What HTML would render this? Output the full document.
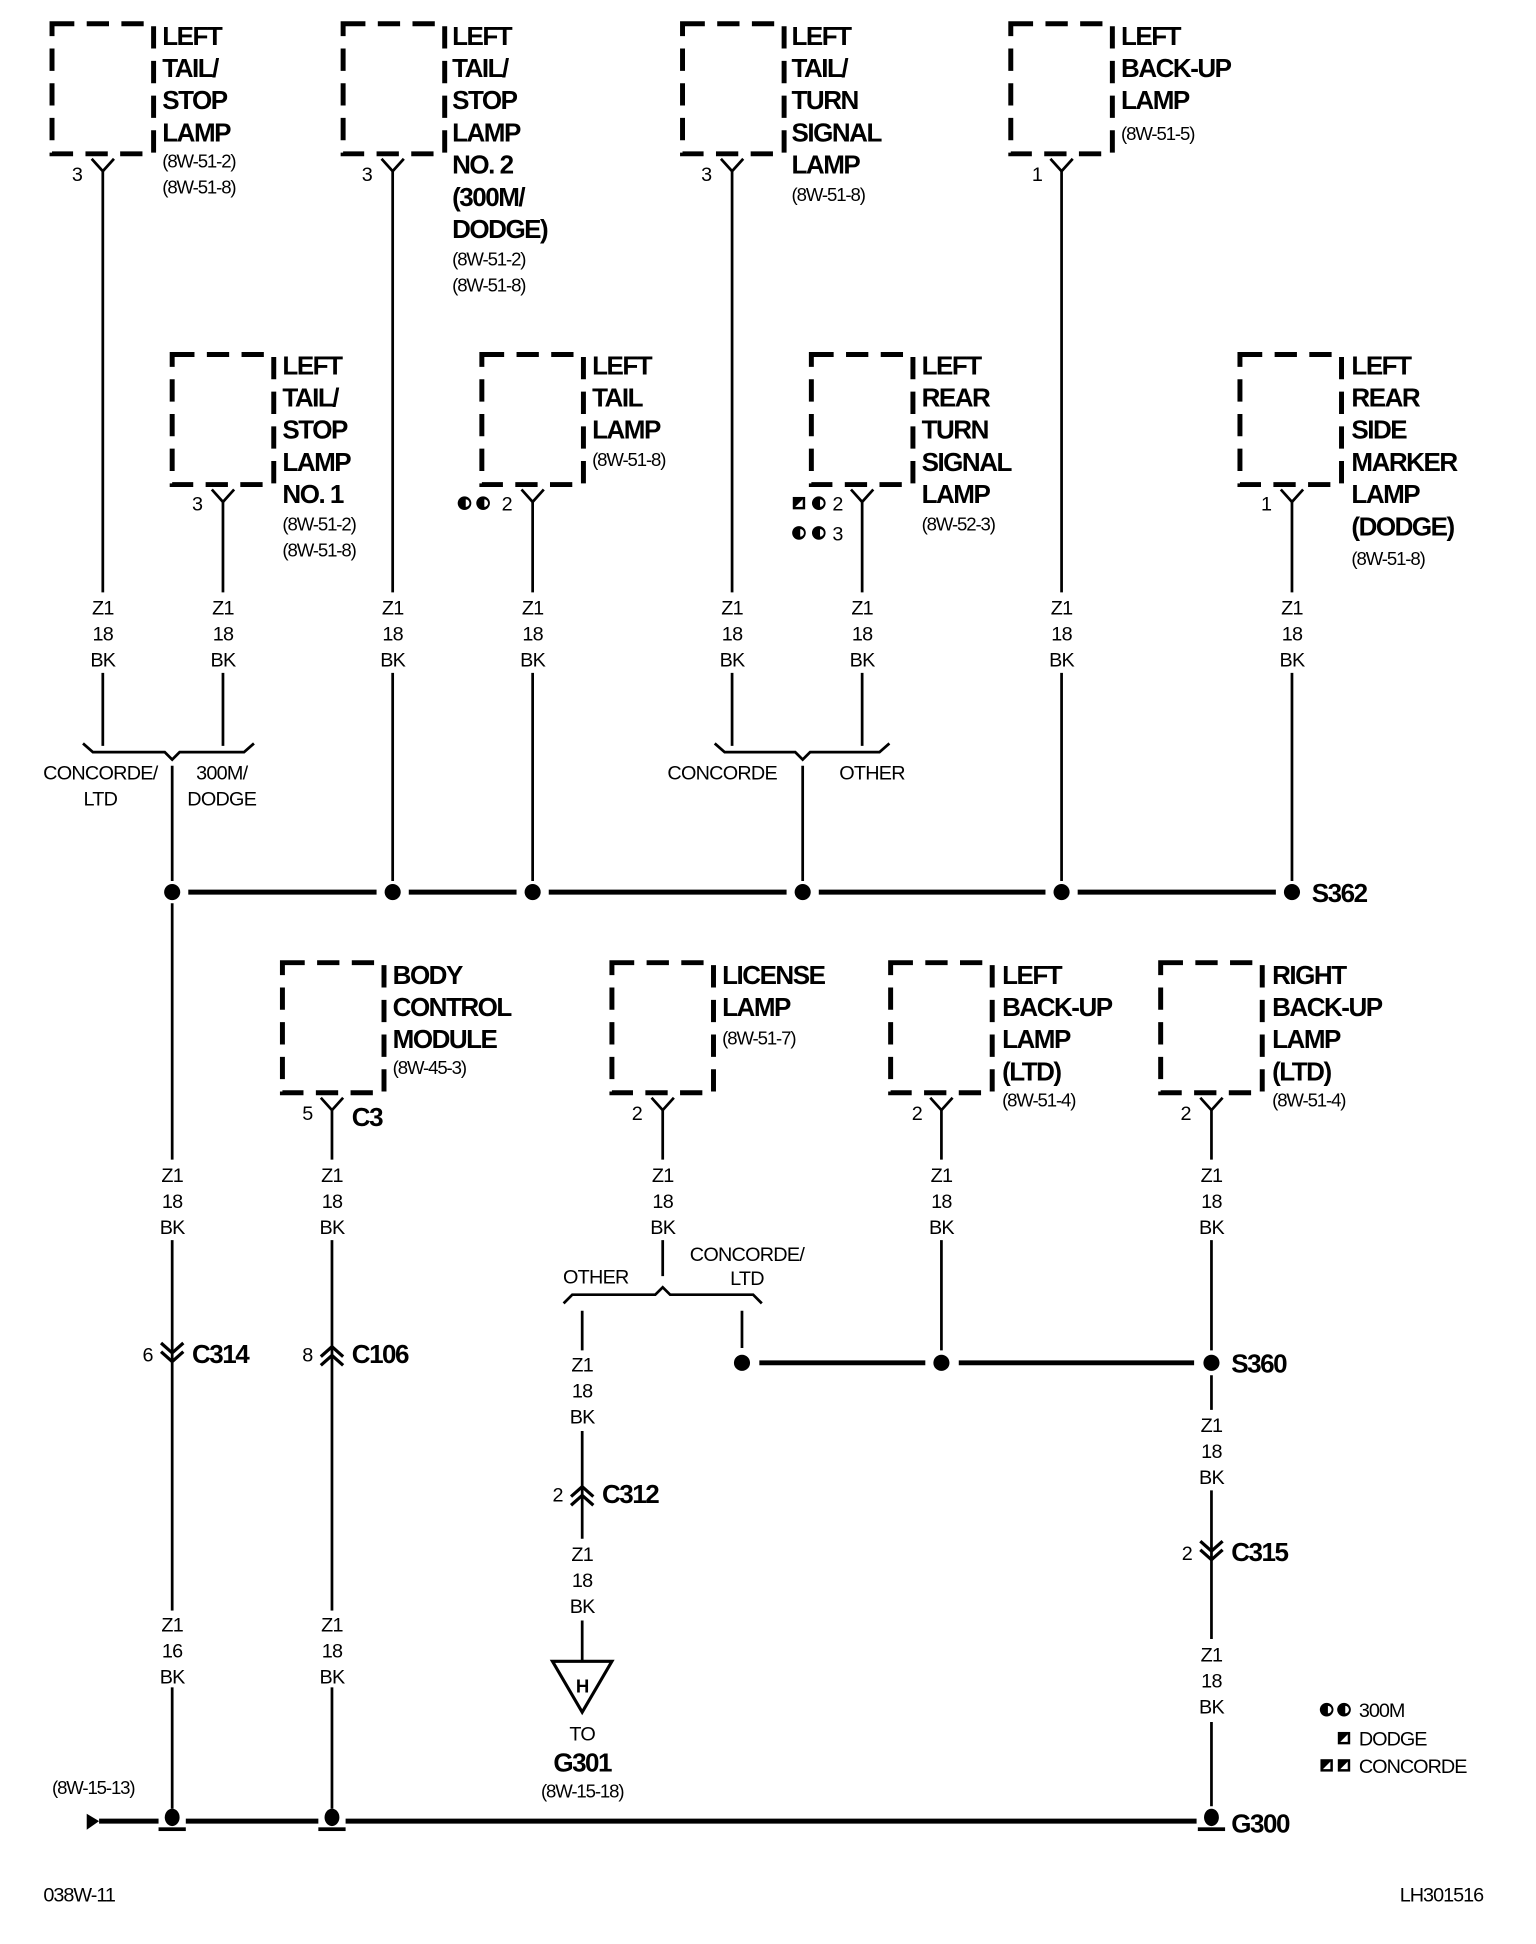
<!DOCTYPE html>
<html><head><meta charset="utf-8"><style>
html,body{margin:0;padding:0;background:#fff}
svg{display:block}
text{font-family:"Liberation Sans",Arial,sans-serif;fill:#000}
.b{font-size:21px;font-weight:bold;letter-spacing:-1.2px}
.r{font-size:15px;letter-spacing:-0.9px}
.w{font-size:16px;text-anchor:middle;letter-spacing:-0.6px}
.p{font-size:16px;text-anchor:end}
.s{font-size:16px;letter-spacing:-0.8px}
.box{fill:none;stroke:#000;stroke-width:4;stroke-dasharray:18 10}
.l{stroke:#000;stroke-width:2.2;fill:none}
.t{stroke:#000;stroke-width:4;fill:none}
</style></head><body>
<svg width="1536" height="1944" viewBox="0 0 1240 1569" xmlns="http://www.w3.org/2000/svg">
<defs>
<g id="ypin"><path class="l" d="M-9,4 L0,14 L9,4"/></g>
<g id="cd"><path d="M-9,-9 L0,-1 L9,-9 M-9,-2 L0,6 L9,-2" stroke="#000" stroke-width="2.6" fill="none"/></g>
<g id="cu"><path d="M-9,9 L0,1 L9,9 M-9,2 L0,-6 L9,2" stroke="#000" stroke-width="2.6" fill="none"/></g>
<g id="gnd"><ellipse cx="0" cy="-3" rx="6" ry="7" fill="#000"/><rect x="-11" y="5" width="22" height="3" fill="#000"/></g>
<g id="sym"><circle r="5.5" fill="#000"/><path d="M1,-3 A3,3 0 0 1 1,3 Z" fill="#fff"/></g>
<g id="sq"><rect x="-5" y="-5" width="10" height="10" fill="#000"/><path d="M-3,3 L3,-3 L3,3 Z" fill="#fff"/></g>
</defs>

<!-- top row boxes -->
<rect class="box" x="42" y="19" width="82" height="105"/>
<rect class="box" x="277" y="19" width="82" height="105"/>
<rect class="box" x="551" y="19" width="82" height="105"/>
<rect class="box" x="816" y="19" width="82" height="105"/>
<use href="#ypin" x="83" y="124"/><use href="#ypin" x="317" y="124"/><use href="#ypin" x="591" y="124"/><use href="#ypin" x="857" y="124"/>
<text class="s" x="58" y="146">3</text><text class="s" x="292" y="146">3</text><text class="s" x="566" y="146">3</text><text class="s" x="833" y="146">1</text>

<text class="b" x="131" y="36">LEFT</text><text class="b" x="131" y="62">TAIL/</text><text class="b" x="131" y="88">STOP</text><text class="b" x="131" y="114">LAMP</text>
<text class="r" x="131" y="135">(8W-51-2)</text><text class="r" x="131" y="156">(8W-51-8)</text>

<text class="b" x="365" y="36">LEFT</text><text class="b" x="365" y="62">TAIL/</text><text class="b" x="365" y="88">STOP</text><text class="b" x="365" y="114">LAMP</text><text class="b" x="365" y="140">NO. 2</text><text class="b" x="365" y="166">(300M/</text><text class="b" x="365" y="192">DODGE)</text>
<text class="r" x="365" y="214">(8W-51-2)</text><text class="r" x="365" y="235">(8W-51-8)</text>

<text class="b" x="639" y="36">LEFT</text><text class="b" x="639" y="62">TAIL/</text><text class="b" x="639" y="88">TURN</text><text class="b" x="639" y="114">SIGNAL</text><text class="b" x="639" y="140">LAMP</text>
<text class="r" x="639" y="162">(8W-51-8)</text>

<text class="b" x="905" y="36">LEFT</text><text class="b" x="905" y="62">BACK-UP</text><text class="b" x="905" y="88">LAMP</text>
<text class="r" x="905" y="113">(8W-51-5)</text>

<!-- second row boxes -->
<rect class="box" x="139" y="286" width="82" height="105"/>
<rect class="box" x="389" y="286" width="82" height="105"/>
<rect class="box" x="655" y="286" width="82" height="105"/>
<rect class="box" x="1001" y="286" width="82" height="105"/>
<use href="#ypin" x="180" y="391"/><use href="#ypin" x="430" y="391"/><use href="#ypin" x="696" y="391"/><use href="#ypin" x="1043" y="391"/>
<text class="s" x="155" y="412">3</text><text class="s" x="405" y="412">2</text><text class="s" x="672" y="412">2</text><text class="s" x="672" y="436">3</text><text class="s" x="1018" y="412">1</text>
<use href="#sym" x="375" y="406"/><use href="#sym" x="390" y="406"/>
<use href="#sq" x="645" y="406"/><use href="#sym" x="661" y="406"/>
<use href="#sym" x="645" y="430"/><use href="#sym" x="661" y="430"/>

<text class="b" x="228" y="302">LEFT</text><text class="b" x="228" y="328">TAIL/</text><text class="b" x="228" y="354">STOP</text><text class="b" x="228" y="380">LAMP</text><text class="b" x="228" y="406">NO. 1</text>
<text class="r" x="228" y="428">(8W-51-2)</text><text class="r" x="228" y="449">(8W-51-8)</text>

<text class="b" x="478" y="302">LEFT</text><text class="b" x="478" y="328">TAIL</text><text class="b" x="478" y="354">LAMP</text>
<text class="r" x="478" y="376">(8W-51-8)</text>

<text class="b" x="744" y="302">LEFT</text><text class="b" x="744" y="328">REAR</text><text class="b" x="744" y="354">TURN</text><text class="b" x="744" y="380">SIGNAL</text><text class="b" x="744" y="406">LAMP</text>
<text class="r" x="744" y="428">(8W-52-3)</text>

<text class="b" x="1091" y="302">LEFT</text><text class="b" x="1091" y="328">REAR</text><text class="b" x="1091" y="354">SIDE</text><text class="b" x="1091" y="380">MARKER</text><text class="b" x="1091" y="406">LAMP</text><text class="b" x="1091" y="432">(DODGE)</text>
<text class="r" x="1091" y="456">(8W-51-8)</text>

<!-- top wires -->
<path class="l" d="M83,138 V478 M83,543 V602 M180,405 V478 M180,543 V602 M317,138 V478 M317,543 V711 M430,405 V478 M430,543 V711 M591,138 V478 M591,543 V602 M696,405 V478 M696,543 V602 M857,138 V478 M857,543 V711 M1043,405 V478 M1043,543 V711"/>
<g>
<text class="w" x="83" y="496">Z1</text><text class="w" x="83" y="517">18</text><text class="w" x="83" y="538">BK</text>
<text class="w" x="180" y="496">Z1</text><text class="w" x="180" y="517">18</text><text class="w" x="180" y="538">BK</text>
<text class="w" x="317" y="496">Z1</text><text class="w" x="317" y="517">18</text><text class="w" x="317" y="538">BK</text>
<text class="w" x="430" y="496">Z1</text><text class="w" x="430" y="517">18</text><text class="w" x="430" y="538">BK</text>
<text class="w" x="591" y="496">Z1</text><text class="w" x="591" y="517">18</text><text class="w" x="591" y="538">BK</text>
<text class="w" x="696" y="496">Z1</text><text class="w" x="696" y="517">18</text><text class="w" x="696" y="538">BK</text>
<text class="w" x="857" y="496">Z1</text><text class="w" x="857" y="517">18</text><text class="w" x="857" y="538">BK</text>
<text class="w" x="1043" y="496">Z1</text><text class="w" x="1043" y="517">18</text><text class="w" x="1043" y="538">BK</text>
</g>
<!-- brackets -->
<path class="l" d="M67,600 L75,607 H133 L139,613 L145,607 H197 L205,600"/>
<path class="l" d="M139,618 V711"/>
<text class="w" x="81" y="629">CONCORDE/</text><text class="w" x="81" y="650">LTD</text>
<text class="w" x="179" y="629">300M/</text><text class="w" x="179" y="650">DODGE</text>
<path class="l" d="M577,600 L585,607 H642 L648,613 L654,607 H710 L718,600"/>
<path class="l" d="M648,618 V711"/>
<text class="w" x="583" y="629">CONCORDE</text><text class="w" x="704" y="629">OTHER</text>

<!-- S362 bus -->
<path class="t" d="M152,720 H304 M330,720 H417 M443,720 H635 M661,720 H844 M870,720 H1030"/>
<circle cx="139" cy="720" r="6.5"/><circle cx="317" cy="720" r="6.5"/><circle cx="430" cy="720" r="6.5"/><circle cx="648" cy="720" r="6.5"/><circle cx="857" cy="720" r="6.5"/><circle cx="1043" cy="720" r="6.5"/>
<text class="b" x="1059" y="728">S362</text>

<!-- lower boxes -->
<rect class="box" x="228" y="777" width="82" height="105"/>
<rect class="box" x="494" y="777" width="82" height="105"/>
<rect class="box" x="719" y="777" width="82" height="105"/>
<rect class="box" x="937" y="777" width="82" height="105"/>
<use href="#ypin" x="268" y="882"/><use href="#ypin" x="535" y="882"/><use href="#ypin" x="760" y="882"/><use href="#ypin" x="978" y="882"/>
<text class="s" x="244" y="904">5</text><text class="b" x="284" y="909">C3</text>
<text class="s" x="510" y="904">2</text><text class="s" x="736" y="904">2</text><text class="s" x="953" y="904">2</text>

<text class="b" x="317" y="794">BODY</text><text class="b" x="317" y="820">CONTROL</text><text class="b" x="317" y="846">MODULE</text>
<text class="r" x="317" y="867">(8W-45-3)</text>
<text class="b" x="583" y="794">LICENSE</text><text class="b" x="583" y="820">LAMP</text>
<text class="r" x="583" y="843">(8W-51-7)</text>
<text class="b" x="809" y="794">LEFT</text><text class="b" x="809" y="820">BACK-UP</text><text class="b" x="809" y="846">LAMP</text><text class="b" x="809" y="872">(LTD)</text>
<text class="r" x="809" y="893">(8W-51-4)</text>
<text class="b" x="1027" y="794">RIGHT</text><text class="b" x="1027" y="820">BACK-UP</text><text class="b" x="1027" y="846">LAMP</text><text class="b" x="1027" y="872">(LTD)</text>
<text class="r" x="1027" y="893">(8W-51-4)</text>

<!-- lower wires -->
<path class="l" d="M139,729 V936 M139,1001 V1460 M268,896 V936 M268,1001 V1460 M535,896 V936 M535,1001 V1030 M760,896 V936 M760,1001 V1090 M978,896 V936 M978,1001 V1090 M470,1058 V1090 M470,1155 V1242 M470,1308 V1340 M599,1058 V1088 M978,1110 V1138 M978,1203 V1323 M978,1390 V1458"/>
<g>
<text class="w" x="139" y="954">Z1</text><text class="w" x="139" y="975">18</text><text class="w" x="139" y="996">BK</text>
<text class="w" x="268" y="954">Z1</text><text class="w" x="268" y="975">18</text><text class="w" x="268" y="996">BK</text>
<text class="w" x="535" y="954">Z1</text><text class="w" x="535" y="975">18</text><text class="w" x="535" y="996">BK</text>
<text class="w" x="760" y="954">Z1</text><text class="w" x="760" y="975">18</text><text class="w" x="760" y="996">BK</text>
<text class="w" x="978" y="954">Z1</text><text class="w" x="978" y="975">18</text><text class="w" x="978" y="996">BK</text>
<text class="w" x="470" y="1107">Z1</text><text class="w" x="470" y="1128">18</text><text class="w" x="470" y="1149">BK</text>
<text class="w" x="470" y="1260">Z1</text><text class="w" x="470" y="1281">18</text><text class="w" x="470" y="1302">BK</text>
<text class="w" x="978" y="1156">Z1</text><text class="w" x="978" y="1177">18</text><text class="w" x="978" y="1198">BK</text>
<text class="w" x="978" y="1341">Z1</text><text class="w" x="978" y="1362">18</text><text class="w" x="978" y="1383">BK</text>
<text class="w" x="139" y="1317">Z1</text><text class="w" x="139" y="1338">16</text><text class="w" x="139" y="1359">BK</text>
<text class="w" x="268" y="1317">Z1</text><text class="w" x="268" y="1338">18</text><text class="w" x="268" y="1359">BK</text>
</g>
<!-- hide wire behind lower labels -->
<rect x="125" y="1300" width="28" height="62" fill="#fff"/><rect x="254" y="1300" width="28" height="62" fill="#fff"/>
<g>
<text class="w" x="139" y="1317">Z1</text><text class="w" x="139" y="1338">16</text><text class="w" x="139" y="1359">BK</text>
<text class="w" x="268" y="1317">Z1</text><text class="w" x="268" y="1338">18</text><text class="w" x="268" y="1359">BK</text>
</g>

<!-- connectors -->
<use href="#cd" x="139" y="1093"/><text class="s" x="115" y="1099">6</text><text class="b" x="155" y="1100">C314</text>
<use href="#cu" x="268" y="1093"/><text class="s" x="244" y="1099">8</text><text class="b" x="284" y="1100">C106</text>
<use href="#cu" x="470" y="1206"/><text class="s" x="446" y="1212">2</text><text class="b" x="486" y="1213">C312</text>
<use href="#cd" x="978" y="1253"/><text class="s" x="954" y="1259">2</text><text class="b" x="994" y="1260">C315</text>

<!-- license bracket -->
<path class="l" d="M455,1052 L462,1045 H529 L535,1039 L541,1045 H608 L615,1052"/>
<text class="w" x="481" y="1036">OTHER</text>
<text class="w" x="603" y="1018">CONCORDE/</text><text class="w" x="603" y="1037">LTD</text>

<!-- S360 bus -->
<path class="t" d="M613,1100 H747 M774,1100 H964"/>
<circle cx="599" cy="1100" r="6.5"/><circle cx="760" cy="1100" r="6.5"/><circle cx="978" cy="1100" r="6.5"/>
<text class="b" x="994" y="1108">S360</text>

<!-- G301 -->
<polygon points="446,1341 494,1341 470,1382" fill="none" stroke="#000" stroke-width="2.5"/>
<text class="w" x="470" y="1366" style="font-weight:bold;font-size:15px">H</text>
<text class="w" x="470" y="1405">TO</text>
<text class="b" x="470" y="1430" text-anchor="middle">G301</text>
<text class="r" x="470" y="1451" text-anchor="middle">(8W-15-18)</text>

<!-- ground bus -->
<polygon points="70,1464 70,1477 80,1470" fill="#000"/>
<path class="t" d="M80,1470 H128 M150,1470 H257 M279,1470 H966"/>
<use href="#gnd" x="139" y="1470"/><use href="#gnd" x="268" y="1470"/><use href="#gnd" x="978" y="1470"/>
<text class="b" x="994" y="1479">G300</text>
<text class="r" x="42" y="1448">(8W-15-13)</text>

<!-- legend -->
<use href="#sym" x="1071" y="1380"/><use href="#sym" x="1085" y="1380"/><text class="s" x="1097" y="1386">300M</text>
<use href="#sq" x="1085" y="1403"/><text class="s" x="1097" y="1409">DODGE</text>
<use href="#sq" x="1071" y="1425"/><use href="#sq" x="1085" y="1425"/><text class="s" x="1097" y="1431">CONCORDE</text>

<text class="s" x="35" y="1535">038W-11</text>
<text class="s" x="1130" y="1535">LH301516</text>
</svg>
</body></html>
